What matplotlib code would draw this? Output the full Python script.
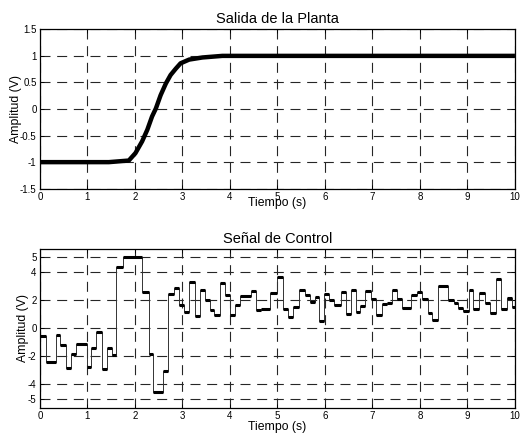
import matplotlib
matplotlib.use("Agg")
import matplotlib.pyplot as plt
from matplotlib.ticker import FuncFormatter

plt.rcParams['font.family'] = ['Liberation Sans', 'DejaVu Sans']
plt.rcParams['axes.unicode_minus'] = False

# ---- data: plant output ----
plant_t = [0.0, 1.45, 1.87, 2.01, 2.15, 2.26, 2.36, 2.44, 2.54, 2.65, 2.75,
           2.86, 2.96, 3.14, 3.42, 3.84, 4.5, 10.0]
plant_y = [-1.0, -1.0, -0.97, -0.83, -0.61, -0.39, -0.14, 0.01, 0.26, 0.48, 0.64,
           0.76, 0.86, 0.93, 0.97, 1.0, 1.0, 1.0]

# ---- data: control signal (step start times and levels) ----
ctrl_t = [0.00, 0.12, 0.33, 0.43, 0.54, 0.65, 0.75, 0.98, 1.07, 1.19,
          1.30, 1.41, 1.51, 1.61, 1.74, 2.15, 2.29, 2.39, 2.58, 2.70,
          2.82, 2.93, 3.03, 3.14, 3.26, 3.36, 3.47, 3.57, 3.67, 3.79,
          3.90, 4.00, 4.11, 4.21, 4.44, 4.54, 4.65, 4.85, 5.00, 5.12,
          5.22, 5.33, 5.45, 5.57, 5.68, 5.78, 5.88, 5.99, 6.09, 6.20,
          6.34, 6.44, 6.55, 6.65, 6.74, 6.85, 6.97, 7.08, 7.21, 7.31,
          7.42, 7.52, 7.62, 7.81, 7.93, 8.05, 8.16, 8.26, 8.37, 8.60,
          8.71, 8.80, 8.91, 9.03, 9.12, 9.24, 9.36, 9.48, 9.60, 9.71,
          9.84, 9.94]
ctrl_u = [-0.56, -2.40, -0.51, -1.22, -2.80, -1.86, -1.15, -2.76, -1.41, -0.27,
          -2.94, -1.45, -1.93, 4.33, 5.00, 2.56, -1.81, -4.53, -3.06, 2.40,
          2.87, 1.62, 1.14, 3.27, 0.86, 2.73, 1.97, 1.26, 0.91, 3.20,
          2.33, 0.91, 1.62, 2.30, 2.60, 1.26, 1.38, 2.45, 3.62, 1.33,
          0.79, 1.50, 2.73, 2.33, 1.85, 2.20, 0.48, 2.40, 2.00, 1.60,
          2.55, 0.98, 2.73, 1.14, 1.55, 2.61, 2.09, 0.91, 1.67, 1.80,
          2.68, 2.09, 1.40, 2.33, 2.55, 2.09, 1.03, 0.55, 2.99, 1.97,
          1.74, 1.45, 1.20, 2.68, 1.38, 2.45, 1.74, 1.03, 3.44, 1.38,
          2.15, 1.50]
t_end = 10.0

xticks = list(range(0, 11))
yticks_top = [-1.5, -1, -0.5, 0, 0.5, 1, 1.5]
yticks_bot = [-5, -4, -2, 0, 2, 4, 5]

fig = plt.figure(figsize=(5.26, 4.33), dpi=100)
ax1 = fig.add_axes([0.0760, 0.5642, 0.9030, 0.3681])
ax2 = fig.add_axes([0.0760, 0.0584, 0.9030, 0.3665])

fmt = FuncFormatter(lambda v, p: ('%g' % v))

def style(ax):
    ax.set_xlim(0, 10)
    ax.set_xticks(xticks)
    ax.xaxis.set_major_formatter(fmt)
    ax.yaxis.set_major_formatter(fmt)
    ax.tick_params(direction='in', top=True, right=True, length=3.2, width=0.6,
                   labelsize=7, pad=2.4)
    ax.grid(True, color='0.15', linewidth=0.8, linestyle=(0, (9, 6)))
    for s in ax.spines.values():
        s.set_linewidth(0.9)
    ax.set_axisbelow(True)

# top panel
ax1.plot(plant_t, plant_y, color='black', linewidth=3.2, solid_capstyle='butt')
ax1.set_ylim(-1.5, 1.5)
ax1.set_yticks(yticks_top)
style(ax1)
ax1.set_title('Salida de la Planta', fontsize=10.5, pad=4.3)
ax1.set_xlabel('Tiempo (s)', fontsize=8.8)
ax1.set_ylabel('Amplitud (V)', fontsize=8.8)
ax1.xaxis.set_label_coords(0.5, -0.088)
ax1.xaxis.label.set_verticalalignment('center')
ax1.yaxis.set_label_coords(-0.0505, 0.5)
ax1.yaxis.label.set_verticalalignment('center')

# bottom panel
st = ctrl_t + [t_end]
su = ctrl_u + [ctrl_u[-1]]
ax2.step(st, su, where='post', color='0.2', linewidth=0.7)
ax2.hlines(ctrl_u, ctrl_t, st[1:], color='black', linewidth=2.2)
ax2.set_ylim(-5.65, 5.6)
ax2.set_yticks(yticks_bot)
style(ax2)
ax2.set_title('Señal de Control', fontsize=10.5, pad=4.2)
ax2.set_xlabel('Tiempo (s)', fontsize=8.8)
ax2.set_ylabel('Amplitud (V)', fontsize=8.8)
ax2.xaxis.set_label_coords(0.5, -0.1216)
ax2.xaxis.label.set_verticalalignment('center')
ax2.yaxis.set_label_coords(-0.0358, 0.5)
ax2.yaxis.label.set_verticalalignment('center')

fig.savefig('out.png', dpi=100)
